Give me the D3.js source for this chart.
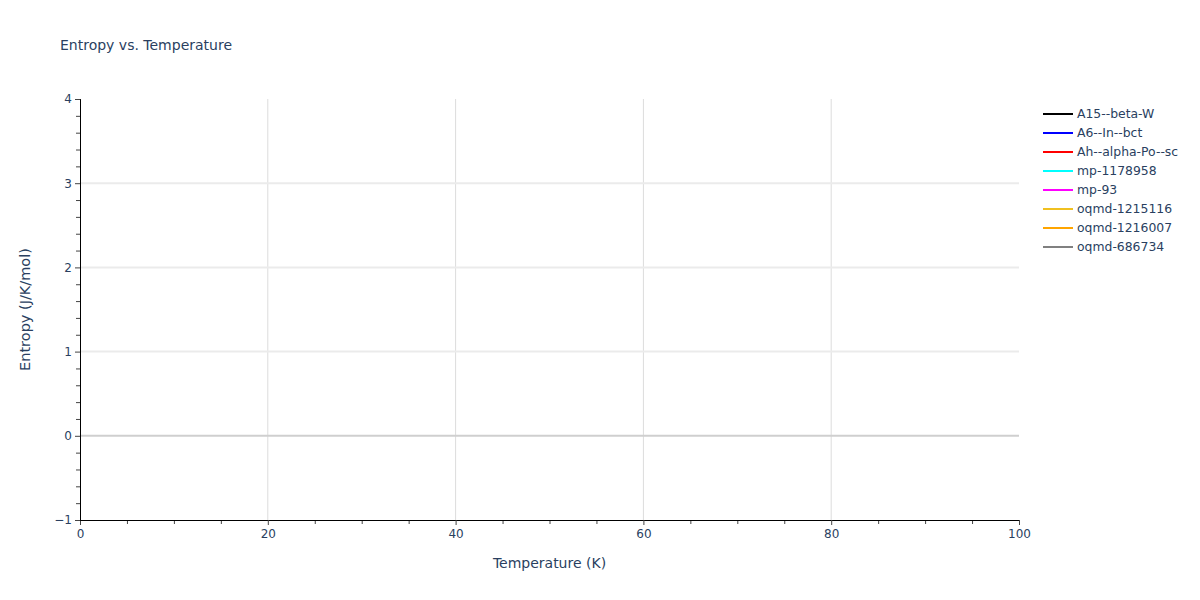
<!DOCTYPE html>
<html>
<head>
<meta charset="utf-8">
<script src="https://cdn.jsdelivr.net/npm/d3@7"></script>
<style>
  body { margin: 0; background: #fff; }
  text { font-family: "DejaVu Sans", verdana, arial, sans-serif; fill: #2a3f5f; }
</style>
</head>
<body>
<script>
// series names and colours, in legend order
const seriesNames = ["A15--beta-W", "A6--In--bct", "Ah--alpha-Po--sc", "mp-1178958", "mp-93", "oqmd-1215116", "oqmd-1216007", "oqmd-686734"];
const seriesColors = ["black", "blue", "red", "cyan", "magenta", "#f0c020", "orange", "grey"];
// no points fall inside the visible window in the reference
const temperatures = [];
const entropyValues = [[], [], [], [], [], [], [], []];

const xTicks = [0, 20, 40, 60, 80, 100];
const yTicks = [-1, 0, 1, 2, 3, 4];

const width = 1200, height = 600;
const plotLeft = 80, plotRight = 1019, plotTop = 99, plotBottom = 520;

const xScale = d3.scaleLinear().domain([0, 100]).range([plotLeft, plotRight]);
const yScale = d3.scaleLinear().domain([-1, 4]).range([plotBottom, plotTop]);

const svg = d3.select("body").append("svg")
    .attr("width", width)
    .attr("height", height);

svg.append("text")
    .attr("x", 60).attr("y", 50)
    .style("font-size", "14px")
    .text("Entropy vs. Temperature");

// grid
svg.append("g").selectAll("line")
    .data(xTicks.filter(d => d > 0 && d < 100))
    .enter().append("line")
    .attr("x1", d => xScale(d)).attr("x2", d => xScale(d))
    .attr("y1", plotTop).attr("y2", plotBottom)
    .attr("stroke", "#dcdcdc").attr("stroke-width", 1);

svg.append("g").selectAll("line")
    .data(yTicks.filter(d => d > 0 && d < 4))
    .enter().append("line")
    .attr("x1", plotLeft).attr("x2", plotRight)
    .attr("y1", d => yScale(d)).attr("y2", d => yScale(d))
    .attr("stroke", "#ebebeb").attr("stroke-width", 2);

// zero line
svg.append("line")
    .attr("x1", plotLeft).attr("x2", plotRight)
    .attr("y1", yScale(0)).attr("y2", yScale(0))
    .attr("stroke", "#cfcfcf").attr("stroke-width", 2);

// lines
const line = d3.line()
    .x((d, i) => xScale(temperatures[i]))
    .y(d => yScale(d));

svg.append("g").selectAll("path")
    .data(entropyValues)
    .enter().append("path")
    .attr("d", d => line(d))
    .attr("fill", "none")
    .attr("stroke", (d, i) => seriesColors[i])
    .attr("stroke-width", 2);

// axes
const xAxis = d3.axisBottom(xScale).tickValues(xTicks).tickSize(5).tickPadding(4).tickFormat(d3.format("d"));
const xMinor = d3.axisBottom(xScale).tickValues(d3.range(5, 100, 5).filter(d => d % 20 !== 0)).tickSize(4).tickFormat("");
const yAxis = d3.axisLeft(yScale).tickValues(yTicks).tickSize(5).tickPadding(3).tickFormat(d => d < 0 ? "\u2212" + Math.abs(d) : d);
const yMinor = d3.axisLeft(yScale).tickValues(d3.range(-0.8, 4, 0.2).filter(d => Math.abs(d - Math.round(d)) > 0.01)).tickSize(4).tickFormat("");

function styleAxis(g) {
    g.select(".domain").attr("stroke", "#000").attr("stroke-width", 1);
    g.selectAll(".tick line").attr("stroke", "#444");
    g.selectAll(".tick text").style("font-size", "12px").attr("fill", "#2a3f5f");
}

svg.append("g").attr("transform", `translate(0,${plotBottom})`).call(xMinor).call(styleAxis);
svg.append("g").attr("transform", `translate(0,${plotBottom})`).call(xAxis).call(styleAxis);
svg.append("g").attr("transform", `translate(${plotLeft},0)`).call(yMinor).call(styleAxis);
svg.append("g").attr("transform", `translate(${plotLeft},0)`).call(yAxis).call(styleAxis);

svg.append("text")
    .attr("x", (plotLeft + plotRight) / 2).attr("y", 568)
    .attr("text-anchor", "middle")
    .style("font-size", "14px")
    .text("Temperature (K)");

svg.append("text")
    .attr("transform", `translate(30,${(plotTop + plotBottom) / 2}) rotate(-90)`)
    .attr("text-anchor", "middle")
    .style("font-size", "14.5px")
    .text("Entropy (J/K/mol)");

// legend
const legend = svg.append("g").attr("transform", "translate(1043,114)");
const items = legend.selectAll("g")
    .data(seriesNames)
    .enter().append("g")
    .attr("transform", (d, i) => `translate(0,${i * 19})`);
items.append("line")
    .attr("x1", 0).attr("x2", 30)
    .attr("stroke", (d, i) => seriesColors[i])
    .attr("stroke-width", 2);
items.append("text")
    .attr("x", 34).attr("y", 4)
    .style("font-size", "12.4px")
    .text(d => d);
</script>
</body>
</html>
